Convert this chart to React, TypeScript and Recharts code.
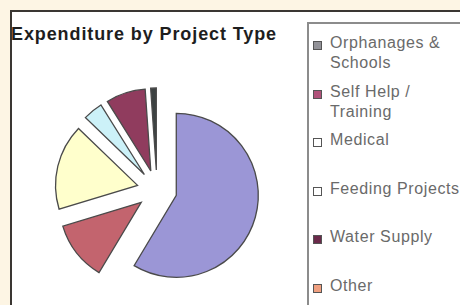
import { PieChart, Pie, Cell, Sector } from 'recharts';

const categories = ['Orphanages & Schools', 'Self Help / Training', 'Medical', 'Feeding Projects', 'Water Supply', 'Other'];
const shares = [58.6, 11.7, 16.9, 3.9, 7.8, 1.1];
const sliceColors = ['#9b96d6', '#c3646e', '#ffffcc', '#ccf1f8', '#903c5e', '#3c4242'];
const swatchColors = ['#929298', '#b0527a', '#ffffff', '#ffffff', '#6a2a4a', '#f0a080'];
const legendLines = [['Orphanages &', 'Schools'], ['Self Help /', 'Training'], ['Medical'], ['Feeding Projects'], ['Water Supply'], ['Other']];

const data = categories.map((name, i) => ({ name, value: shares[i] }));

const FONT = 'Arial, "Liberation Sans", sans-serif';
const RAD = Math.PI / 180;

// pull every slice out from the centre along its mid angle, like Excel's exploded pie
const renderSlice = (props: any) => {
    const off = 20;
    const cx = props.cx + off * Math.cos(-props.midAngle * RAD);
    const cy = props.cy + off * Math.sin(-props.midAngle * RAD);
    return <Sector {...props} cx={cx} cy={cy} />;
};

export default function App() {
    return (
        <div style={{ position: 'absolute', left: 0, top: 0, width: 460, height: 305, overflow: 'hidden', background: '#fdf5e4', fontFamily: FONT }}>
            {/* white chart panel */}
            <div style={{
                position: 'absolute', left: 10, top: 10, width: 470, height: 310,
                background: '#fff', borderLeft: '2px solid #3a3632', borderTop: '2px solid #3a3632'
            }} />

            <div style={{ position: 'absolute', left: 11, top: 24, fontSize: 18, fontWeight: 'bold', letterSpacing: 0.9, color: '#1e1e1e', whiteSpace: 'nowrap' }}>
                Expenditure by Project Type
            </div>

            <div style={{ position: 'absolute', left: 0, top: 0 }}>
                <PieChart width={300} height={305}>
                    <Pie
                        data={data}
                        dataKey="value"
                        nameKey="name"
                        cx={152}
                        cy={185}
                        outerRadius={82}
                        startAngle={90}
                        endAngle={-270}
                        stroke="#4a4a4a"
                        strokeWidth={1.3}
                        shape={renderSlice}
                        isAnimationActive={false}
                    >
                        {data.map((d, i) => (
                            <Cell key={d.name} fill={sliceColors[i]} />
                        ))}
                    </Pie>
                </PieChart>
            </div>

            {/* legend box */}
            <div style={{
                position: 'absolute', left: 307, top: 22, width: 170, height: 300,
                background: '#fff', borderLeft: '2px solid #8c8c8c', borderTop: '2px solid #8c8c8c',
                paddingTop: 9, boxSizing: 'border-box'
            }}>
                {legendLines.map((lines, i) => (
                    <div key={i} style={{ position: 'relative', height: 48.5, paddingLeft: 21, fontSize: 16, lineHeight: '20px', letterSpacing: 0.6, color: '#6a6a6a', whiteSpace: 'nowrap' }}>
                        <span style={{
                            position: 'absolute', left: 4, top: 8, width: 7, height: 7,
                            background: swatchColors[i], border: '1px solid #555'
                        }} />
                        {lines.map(t => <div key={t}>{t}</div>)}
                    </div>
                ))}
            </div>
        </div>
    );
}
